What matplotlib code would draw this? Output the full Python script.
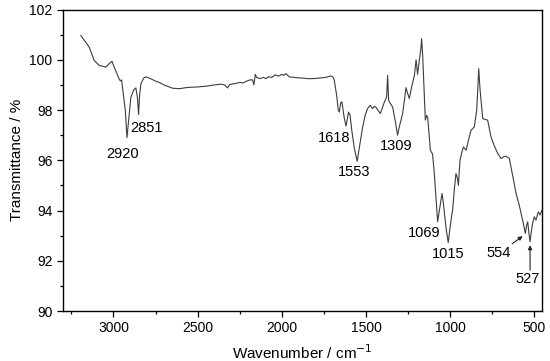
import matplotlib
matplotlib.use("Agg")
import matplotlib.pyplot as plt
from matplotlib.ticker import MultipleLocator

plt.rcParams["font.family"] = ["Liberation Sans", "DejaVu Sans"]

# ── Spectrum ──────────────────────────────────────────────────────────────────
wavenumber = [
    3194, 3144, 3115, 3085, 3045, 3026, 3009, 2996, 2970, 2960, 2952, 2930,
    2920, 2910, 2897, 2880, 2867, 2858, 2851, 2845, 2837, 2820, 2807, 2780,
    2750, 2728, 2700, 2650, 2610, 2560, 2500, 2450, 2400, 2362, 2340, 2323,
    2310, 2280, 2250, 2230, 2210, 2190, 2174, 2166, 2158, 2150, 2130, 2110,
    2095, 2080, 2060, 2040, 2020, 2000, 1990, 1976, 1956, 1930, 1900, 1870,
    1847, 1818, 1780, 1740, 1708, 1695, 1689, 1675, 1665, 1659, 1650, 1643,
    1630, 1619, 1610, 1604, 1595, 1585, 1570, 1553, 1540, 1520, 1505, 1491,
    1475, 1461, 1450, 1440, 1425, 1415, 1400, 1391, 1378, 1372, 1366, 1355,
    1342, 1325, 1313, 1300, 1283, 1270, 1263, 1255, 1243, 1230, 1213, 1203,
    1194, 1184, 1175, 1170, 1164, 1154, 1148, 1140, 1134, 1118, 1105, 1095,
    1085, 1075, 1060, 1049, 1041, 1025, 1012, 1000, 986, 975, 966, 958,
    952, 942, 930, 922, 906, 890, 876, 857, 843, 836, 831, 826,
    821, 807, 790, 778, 758, 740, 718, 698, 680, 668, 649, 630,
    609, 590, 579, 566, 554, 547, 540, 533, 526, 518, 511, 501,
    491, 477, 467, 456,
]
transmittance = [
    100.97, 100.5, 99.98, 99.78, 99.71, 99.85, 99.94, 99.71, 99.29, 99.16, 99.2, 98.0,
    96.9, 97.6, 98.5, 98.8, 98.88, 98.5, 97.82, 98.6, 99.05, 99.28, 99.32, 99.25,
    99.15, 99.1, 99.0, 98.87, 98.85, 98.9, 98.92, 98.95, 99.0, 99.03, 99.0, 98.88,
    99.02, 99.05, 99.1, 99.08, 99.15, 99.2, 99.2, 99.0, 99.42, 99.3, 99.25, 99.3,
    99.25, 99.32, 99.3, 99.4, 99.35, 99.42, 99.38, 99.45, 99.32, 99.3, 99.28, 99.27,
    99.25, 99.25, 99.27, 99.3, 99.36, 99.3, 99.2, 98.6, 98.0, 97.92, 98.3, 98.32,
    97.7, 97.36, 97.7, 97.92, 97.8, 97.2, 96.5, 95.96, 96.5, 97.33, 97.8, 98.06,
    98.19, 98.06, 98.15, 98.1, 97.95, 97.86, 98.15, 98.32, 98.52, 99.38, 98.39, 98.25,
    98.12, 97.5, 97.0, 97.4, 97.86, 98.5, 98.89, 98.7, 98.46, 98.9, 99.38, 100.0,
    99.42, 99.98, 100.4, 100.84, 100.2, 98.52, 97.6, 97.79, 97.7, 96.4, 96.24, 95.5,
    94.5, 93.55, 94.2, 94.68, 94.3, 93.3, 92.72, 93.4, 94.02, 94.9, 95.47, 95.3,
    95.0, 96.0, 96.35, 96.53, 96.4, 96.85, 97.2, 97.33, 97.99, 98.9, 99.65, 99.1,
    98.66, 97.66, 97.62, 97.6, 96.93, 96.6, 96.27, 96.07, 96.15, 96.16, 96.07, 95.4,
    94.68, 94.2, 93.88, 93.49, 93.09, 93.4, 93.55, 93.1, 92.76, 93.2, 93.49, 93.75,
    93.62, 93.95, 93.82, 94.0,
]

# peak labels: text, label x, label y
peak_text = ["2920", "2851", "1618", "1553", "1309", "1069", "1015"]
peak_x    = [2946, 2804, 1689, 1570, 1319, 1154, 1015]
peak_y    = [96.24, 97.29, 96.87, 95.54, 96.56, 93.11, 92.25]

fig = plt.figure(figsize=(5.5, 3.61), dpi=100)
ax = fig.add_axes([0.1145, 0.1385, 0.871, 0.835])

ax.plot(wavenumber, transmittance, color="#3c3c3c", lw=0.8)

ax.set_xlim(3300, 455)
ax.set_ylim(90, 102)
ax.xaxis.set_major_locator(MultipleLocator(500))
ax.xaxis.set_minor_locator(MultipleLocator(250))
ax.yaxis.set_major_locator(MultipleLocator(2))
ax.yaxis.set_minor_locator(MultipleLocator(1))
ax.tick_params(which="both", direction="out", labelsize=10, top=False, right=False)
ax.tick_params(which="major", length=4, width=0.9)
ax.tick_params(which="minor", length=2.5, width=0.9)
for s in ax.spines.values():
    s.set_linewidth(1.0)

ax.set_xlabel("Wavenumber / cm$^{-1}$", fontsize=11, labelpad=6)
ax.set_ylabel("Transmittance / %", fontsize=11, labelpad=4)

for t, x, y in zip(peak_text, peak_x, peak_y):
    ax.text(x, y, t, ha="center", va="center", fontsize=10.5)

# arrowed labels at the low end
ax.annotate("554", xy=(570, 92.98), xytext=(712, 92.29), ha="center",
            va="center", fontsize=10.5,
            arrowprops=dict(arrowstyle="-|>", color="#222", lw=0.8,
                            mutation_scale=6, shrinkA=12, shrinkB=0))
ax.annotate("", xy=(526, 92.62), xytext=(526, 91.63),
            arrowprops=dict(arrowstyle="-|>", color="#222", lw=0.8,
                            mutation_scale=6, shrinkA=0, shrinkB=0))
ax.text(540, 91.26, "527", ha="center", va="center", fontsize=10.5)

plt.savefig("out.png", dpi=100)
